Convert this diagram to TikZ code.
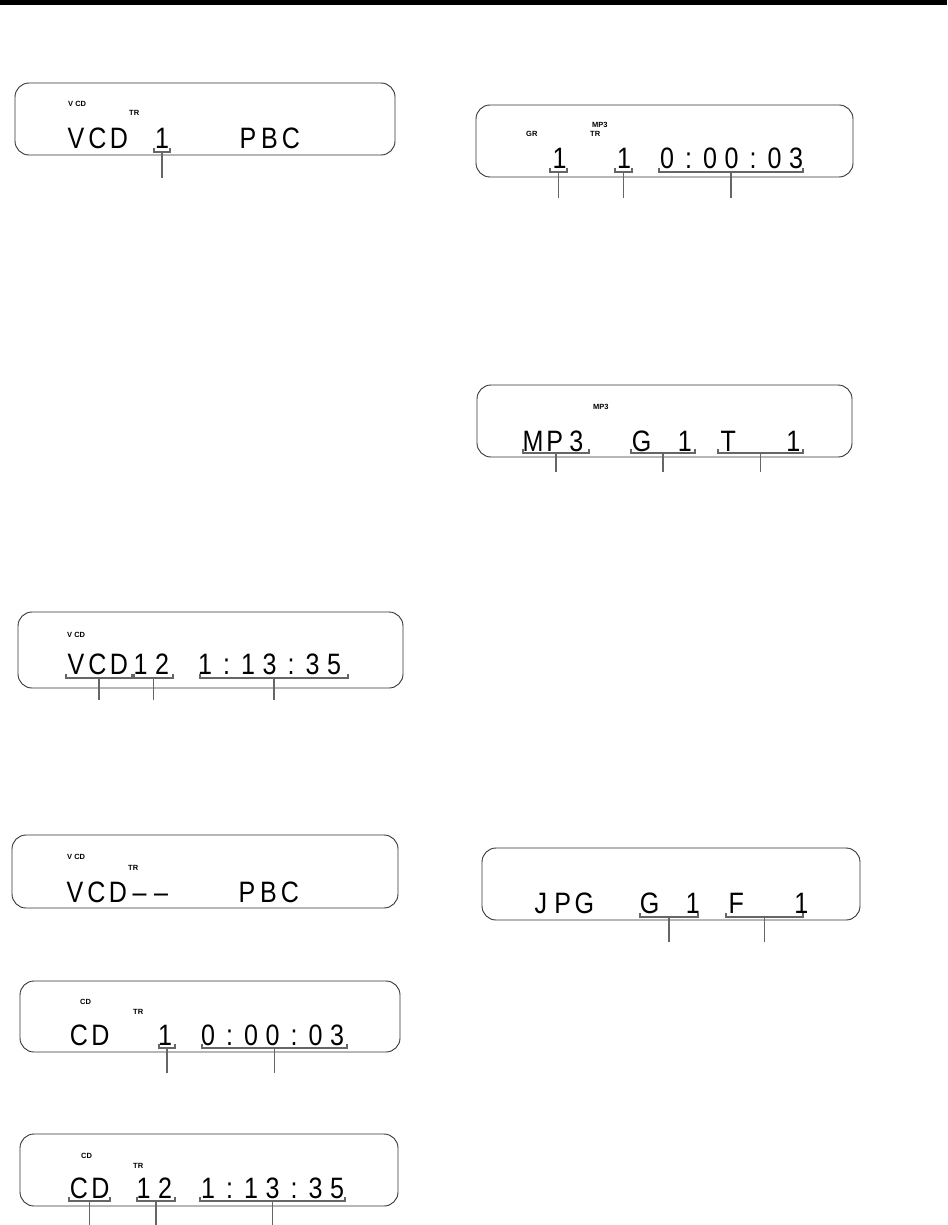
\documentclass[tikz,border=0pt]{standalone}
\usepackage{fontspec}
\setmainfont{Liberation Sans}
\newfontfamily\lcdfont{Liberation Sans}
\usetikzlibrary{calc}
\tikzset{
  lcdbox/.style={draw=black!80, line width=0.9pt, rounded corners=14pt},
  lcdchar/.style={anchor=base, inner sep=0pt, font=\lcdfont\fontsize{29.5}{31}\selectfont},
  tag/.style={anchor=base west, inner sep=0pt, font=\bfseries\fontsize{7.5}{8}\selectfont},
  brk/.style={draw=black!60, line width=1.4pt},
  stem/.style={draw=black!60, line width=1.9pt}
}
\def\lcdblank{*}
\newcommand\lcdrow[5]{% name, x0, pitch, baseline, list
  \foreach \c [count=\i from 0] in {#5} {%
    \ifx\c\lcdblank\else
      \node[lcdchar] (#1-\i) at ({#2+\i*#3},#4) {\scalebox{0.85}[1]{\c}};
    \fi}}
\newcommand\lcdbrk[5]{% name, x1, x2, y, yend
  \coordinate (#1-l) at (#2,#4);
  \coordinate (#1-r) at (#3,#4);
  \coordinate (#1-lt) at (#2,#4-4);
  \coordinate (#1-rt) at (#3,#4-4);
  \coordinate (#1-m) at ($(#1-l)!0.5!(#1-r)$);
  \coordinate (#1-e) at ({(#2+#3)/2},#5);
  \draw[brk] (#1-lt) -- (#1-l) -- (#1-r) -- (#1-rt);
  \draw[stem] (#1-m) -- (#1-e);}
\begin{document}
\begin{tikzpicture}[x=1pt,y=-1pt]
\useasboundingbox (0,0) rectangle (947,1225);
\fill[black] (0,0) rectangle (947,5);

% D1
\draw[lcdbox] (15,83) rectangle (395,155);
\node[tag] (d1v) at (68,107) {V CD};
\node[tag] (d1t) at (129,116) {TR};
\lcdrow{d1}{76}{21.5}{149}{V,C,D,*,1,*,*,*,P,B,C}
\lcdbrk{d1a}{154}{170}{152}{178}

% D2
\draw[lcdbox] (476,105) rectangle (853,177);
\node[tag] (d2m) at (592,128) {MP3};
\node[tag] (d2g) at (526,137) {GR};
\node[tag] (d2t) at (590,137) {TR};
\lcdrow{d2}{538}{21.5}{168}{*,1,*,*,1,*,0,:,0,0,:,0,3}
\lcdbrk{d2a}{550}{567}{172}{198}
\lcdbrk{d2b}{615}{632}{172}{198}
\lcdbrk{d2c}{659}{803}{172}{198}

% D3
\draw[lcdbox] (477,385) rectangle (852,457);
\node[tag] (d3m) at (593,409) {MP3};
\lcdrow{d3}{533}{21.7}{451}{M,P,3,*,*,G,*,1,*,T,*,*,1}
\lcdbrk{d3a}{523}{589}{453}{472}
\lcdbrk{d3b}{631}{695}{453}{472}
\lcdbrk{d3c}{718}{803}{453}{472}

% D4
\draw[lcdbox] (18,612) rectangle (403,688);
\node[tag] (d4v) at (67,637) {V CD};
\lcdrow{d4}{76}{21.5}{674}{V,C,D,1,2,*,1,:,1,3,:,3,5}
\lcdbrk{d4a}{66}{132}{678}{700}
\lcdbrk{d4b}{134}{173}{678}{700}
\lcdbrk{d4c}{200}{348}{678}{700}

% D5
\draw[lcdbox] (12,835) rectangle (398,908);
\node[tag] (d5v) at (67,859) {V CD};
\node[tag] (d5t) at (128,870) {TR};
\lcdrow{d5}{75}{21.5}{902}{V,C,D,–,–,*,*,*,P,B,C}

% D6
\draw[lcdbox] (20,981) rectangle (400,1052);
\node[tag] (d6c) at (80,1004) {CD};
\node[tag] (d6t) at (133,1014) {TR};
\lcdrow{d6}{79}{21.5}{1045}{C,D,*,*,1,*,0,:,0,0,:,0,3}
\lcdbrk{d6a}{159}{175}{1048}{1073}
\lcdbrk{d6b}{202}{347}{1048}{1073}

% D7
\draw[lcdbox] (20,1134) rectangle (398,1206);
\node[tag] (d7c) at (81,1158) {CD};
\node[tag] (d7t) at (133,1168) {TR};
\lcdrow{d7}{79}{21.5}{1198}{C,D,*,1,2,*,1,:,1,3,:,3,5}
\lcdbrk{d7a}{69}{110}{1201}{1225}
\lcdbrk{d7b}{137}{175}{1201}{1225}
\lcdbrk{d7c}{200}{345}{1201}{1225}

% D8
\draw[lcdbox] (482,848) rectangle (860,920);
\lcdrow{d8}{541}{21.7}{913}{J,P,G,*,*,G,*,1,*,F,*,*,1}
\lcdbrk{d8a}{640}{698}{917}{942}
\lcdbrk{d8b}{726}{803}{917}{942}
\end{tikzpicture}
\end{document}
